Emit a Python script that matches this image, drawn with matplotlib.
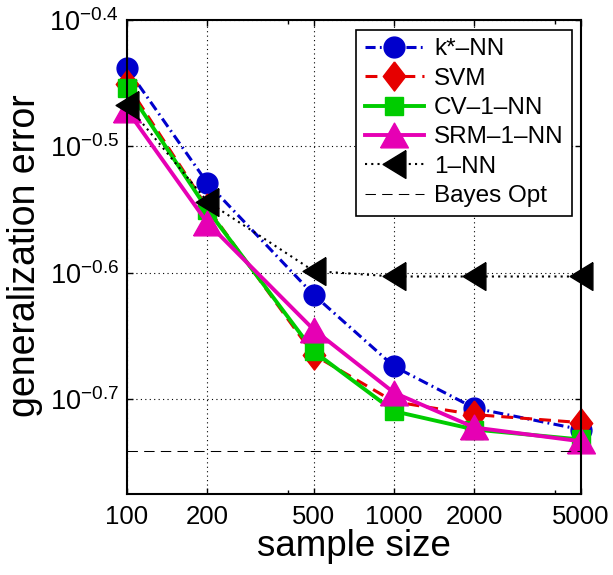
import numpy as np
import matplotlib
matplotlib.use("Agg")
import matplotlib.pyplot as plt

plt.rcParams["font.family"] = ["Liberation Sans", "DejaVu Sans"]
plt.rcParams["mathtext.fontset"] = "custom"
plt.rcParams["mathtext.rm"] = "Liberation Sans"
plt.rcParams["mathtext.it"] = "Liberation Sans:italic"
plt.rcParams["mathtext.bf"] = "Liberation Sans:bold"

# data
sample_size = [100, 200, 500, 1000, 2000, 5000]
err_kstar = [0.3646, 0.2958, 0.2413, 0.2118, 0.1963, 0.1888]
err_svm = [0.3543, 0.2828, 0.2163, 0.1986, 0.1940, 0.1912]
err_cv = [0.3516, 0.2818, 0.2177, 0.1952, 0.1888, 0.1854]
err_srm = [0.3379, 0.2751, 0.2265, 0.2019, 0.1895, 0.1848]
err_1nn = [0.3412, 0.2860, 0.2520, 0.2495, 0.2495, 0.2495]
bayes_opt = 0.1816

x_ticks = [100, 200, 500, 1000, 2000, 5000]
x_minor = [400, 4000]
y_exp = [-0.7, -0.6, -0.5, -0.4]

BLUE = "#0000CC"
RED = "#E60000"
GREEN = "#00CC00"
MAGENTA = "#E600B4"

diamond = [(0, 1), (0.77, 0), (0, -1), (-0.77, 0), (0, 1)]
tri_up = [(-1, -0.89), (1, -0.89), (0, 0.89), (-1, -0.89)]
tri_left = [(0.82, 1), (0.82, -1), (-0.82, 0), (0.82, 1)]

fig = plt.figure(figsize=(6.13, 5.75), dpi=100)
ax = fig.add_axes([0.2072, 0.1409, 0.7401, 0.8243])

ax.plot(sample_size, err_kstar, color=BLUE, lw=2.2, ls=(0, (3.3, 1.4, 0.6, 1.4)),
        marker="o", ms=15, mec=BLUE, mfc=BLUE, label="k*\u2013NN", clip_on=False)
ax.plot(sample_size, err_svm, color=RED, lw=2.2, ls=(0, (3.9, 2.3)),
        marker=diamond, ms=21, mec=RED, mfc=RED, label="SVM", clip_on=False)
ax.plot(sample_size, err_cv, color=GREEN, lw=2.8, ls="-",
        marker="s", ms=13, mec=GREEN, mfc=GREEN, label="CV\u20131\u2013NN", clip_on=False)
ax.plot(sample_size, err_srm, color=MAGENTA, lw=2.8, ls="-",
        marker=tri_up, ms=20, mec=MAGENTA, mfc=MAGENTA, label="SRM\u20131\u2013NN", clip_on=False)
ax.plot(sample_size, err_1nn, color="black", lw=1.5, ls=(0, (1, 2)),
        marker=tri_left, ms=20, mec="black", mfc="black", label="1\u2013NN", clip_on=False)
ax.plot([x_ticks[0], x_ticks[-1]], [bayes_opt, bayes_opt], color="black", lw=0.75,
        ls=(0, (10, 6)), label="Bayes Opt")

ax.set_xscale("log")
ax.set_yscale("log")
ax.set_xlim(100, 5000)
ax.set_ylim(10 ** -0.775, 10 ** -0.4)

ax.set_xticks(x_ticks, [str(t) for t in x_ticks])
ax.set_xticks(x_minor, ["" for t in x_minor], minor=True)
ax.set_yticks([10 ** e for e in y_exp], ["$10^{%g}$" % e for e in y_exp])
ax.yaxis.set_minor_locator(matplotlib.ticker.NullLocator())

ax.tick_params(which="both", direction="in", top=True, right=True, width=1)
ax.tick_params(which="major", length=4)
ax.tick_params(which="minor", length=3)
ax.tick_params(axis="x", pad=8, labelsize=18.5)
ax.tick_params(axis="y", pad=6, labelsize=19.5)

ax.grid(which="major", color="black", lw=0.8, ls=(0, (1, 3)))
for s in ax.spines.values():
    s.set_linewidth(1.5)

ax.set_xlabel("sample size", fontsize=26.5)
ax.set_ylabel("generalization error", fontsize=27)
ax.xaxis.set_label_coords(0.5, -0.074)
ax.yaxis.set_label_coords(-0.185, 0.503)

leg = ax.legend(loc="upper right", bbox_to_anchor=(0.981, 0.979), borderaxespad=0,
                fontsize=17.5, fancybox=False, edgecolor="black", framealpha=1,
                numpoints=1, handlelength=2.45, handletextpad=0.4, labelspacing=0.3,
                borderpad=0.35, markerscale=1.0)
leg.get_frame().set_linewidth(1.2)

fig.savefig("out.png", dpi=100)
